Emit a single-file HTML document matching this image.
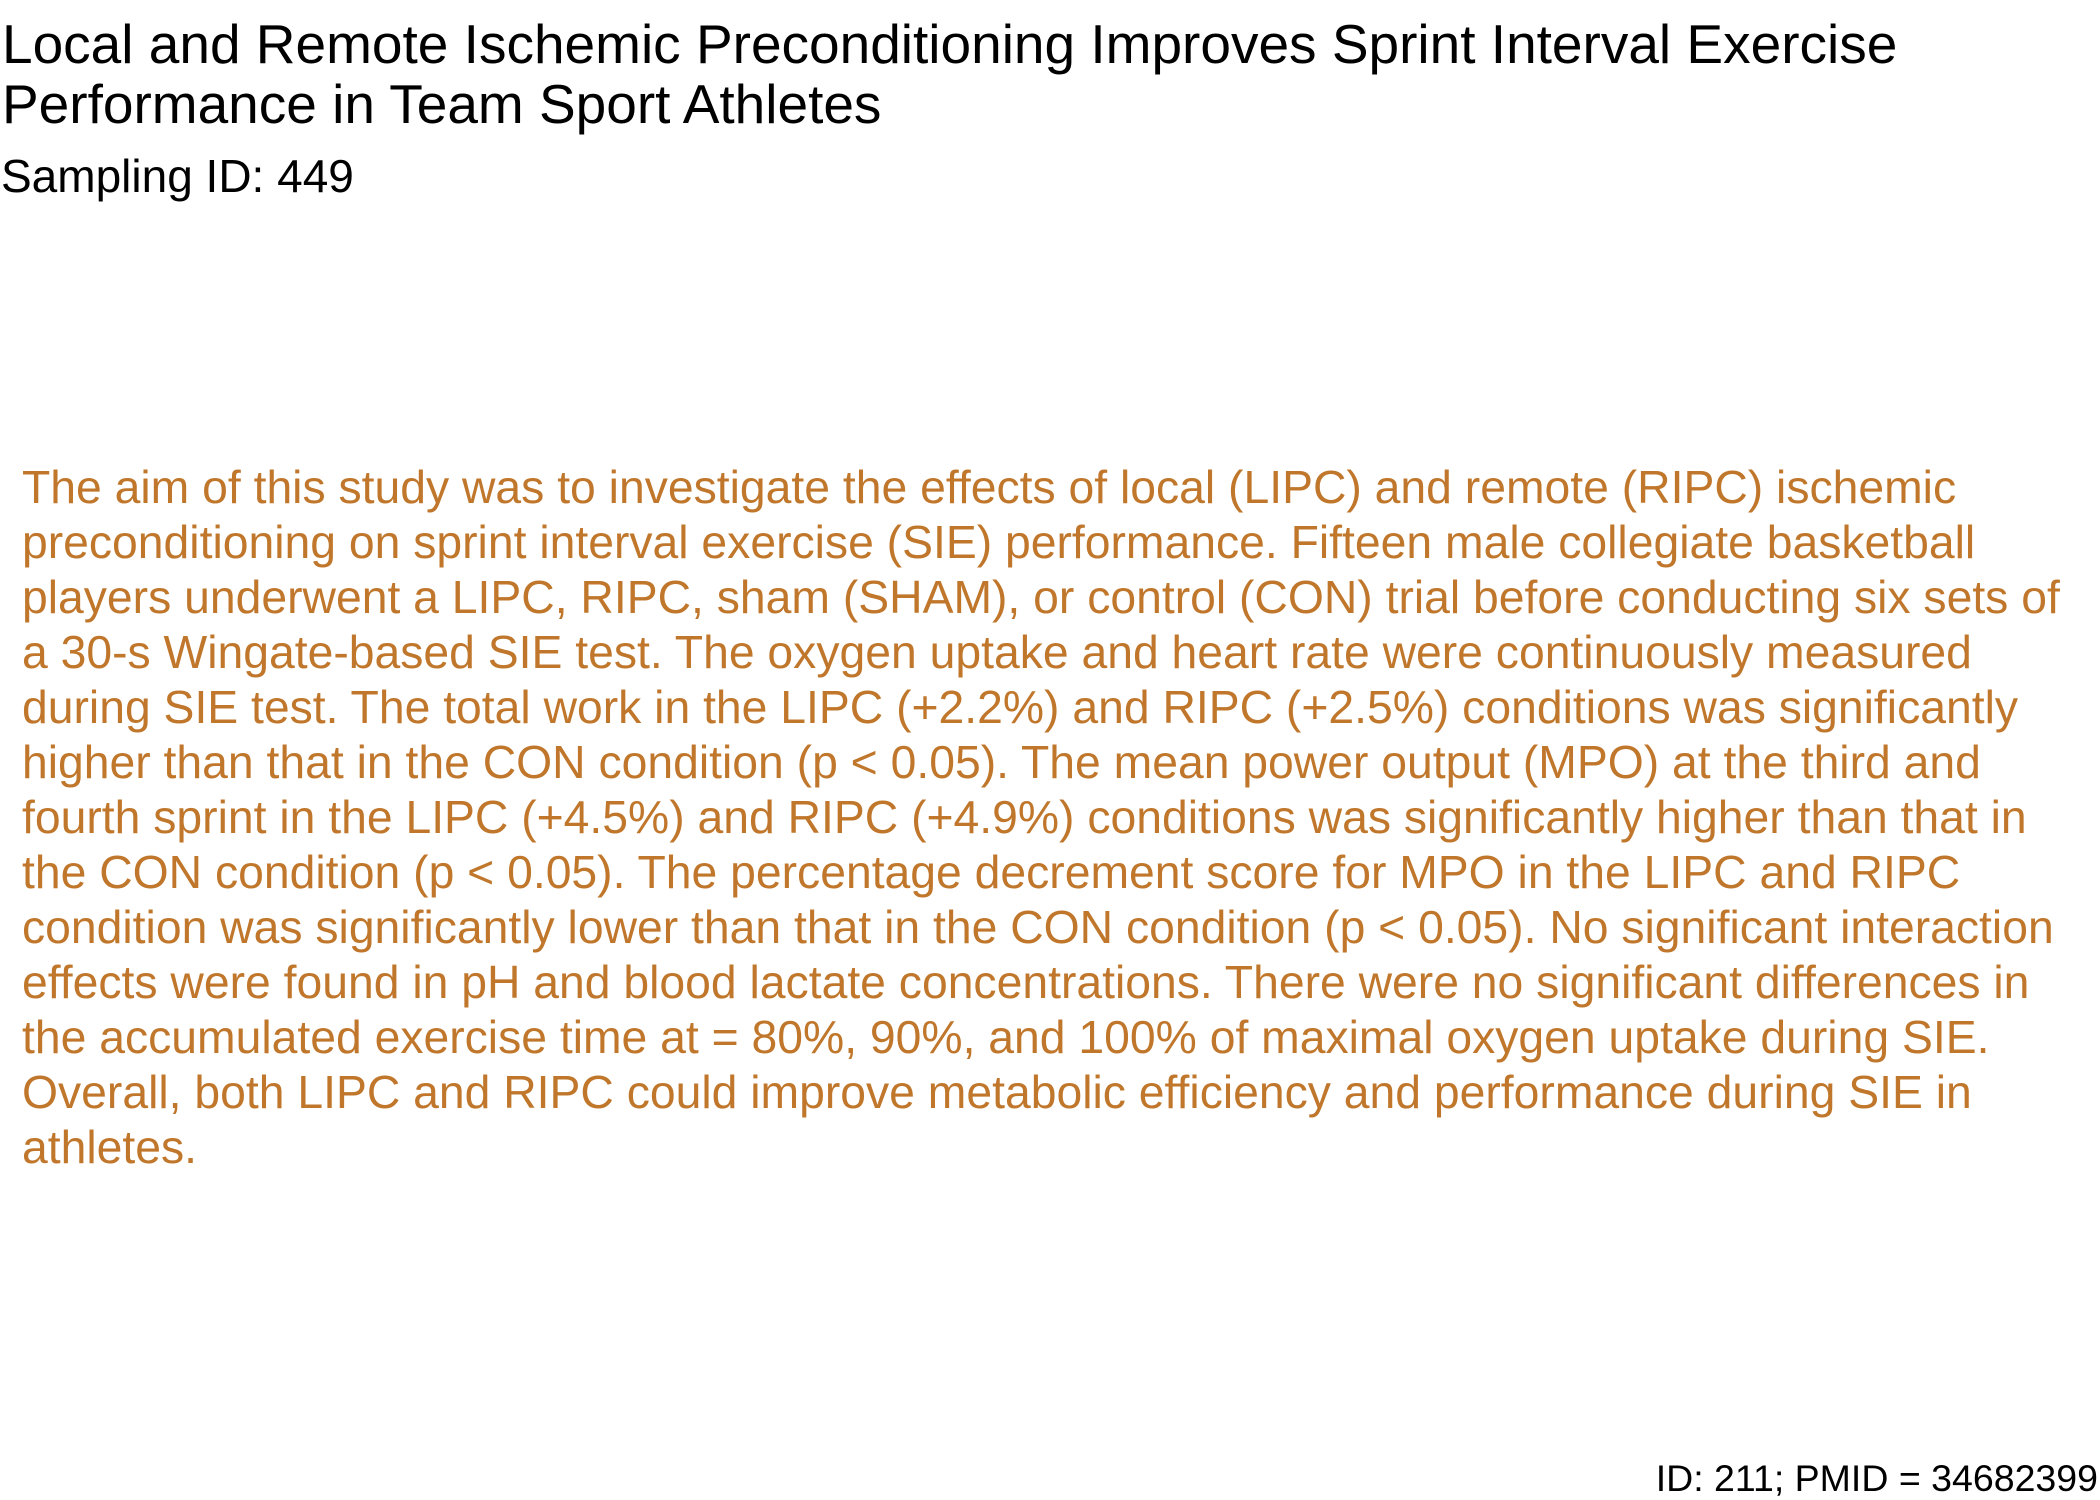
<!DOCTYPE html>
<html><head><meta charset="utf-8"><style>
body{margin:0;width:2100px;height:1500px;background:#fff;position:relative;overflow:hidden;font-family:"Liberation Sans",Arial,sans-serif}
.a{position:absolute;white-space:nowrap}
</style></head><body>
<div class="a" style="left:2px;top:14px;font-size:55px;line-height:60px;color:#000">Local and Remote Ischemic Preconditioning Improves Sprint Interval Exercise<br>Performance in Team Sport Athletes</div>
<div class="a" style="left:1px;top:153px;font-size:46px;line-height:46px;color:#000">Sampling ID: 449</div>
<div class="a" style="left:22px;top:460px;font-size:46.3px;line-height:55px;color:#c0772b">The aim of this study was to investigate the effects of local (LIPC) and remote (RIPC) ischemic<br>preconditioning on sprint interval exercise (SIE) performance. Fifteen male collegiate basketball<br>players underwent a LIPC, RIPC, sham (SHAM), or control (CON) trial before conducting six sets of<br>a 30-s Wingate-based SIE test. The oxygen uptake and heart rate were continuously measured<br>during SIE test. The total work in the LIPC (+2.2%) and RIPC (+2.5%) conditions was significantly<br>higher than that in the CON condition (p &lt; 0.05). The mean power output (MPO) at the third and<br>fourth sprint in the LIPC (+4.5%) and RIPC (+4.9%) conditions was significantly higher than that in<br>the CON condition (p &lt; 0.05). The percentage decrement score for MPO in the LIPC and RIPC<br>condition was significantly lower than that in the CON condition (p &lt; 0.05). No significant interaction<br>effects were found in pH and blood lactate concentrations. There were no significant differences in<br>the accumulated exercise time at = 80%, 90%, and 100% of maximal oxygen uptake during SIE.<br>Overall, both LIPC and RIPC could improve metabolic efficiency and performance during SIE in<br>athletes.</div>
<div class="a" style="right:2px;top:1460px;font-size:37.5px;line-height:37.5px;color:#000">ID: 211; PMID = 34682399</div>
</body></html>
